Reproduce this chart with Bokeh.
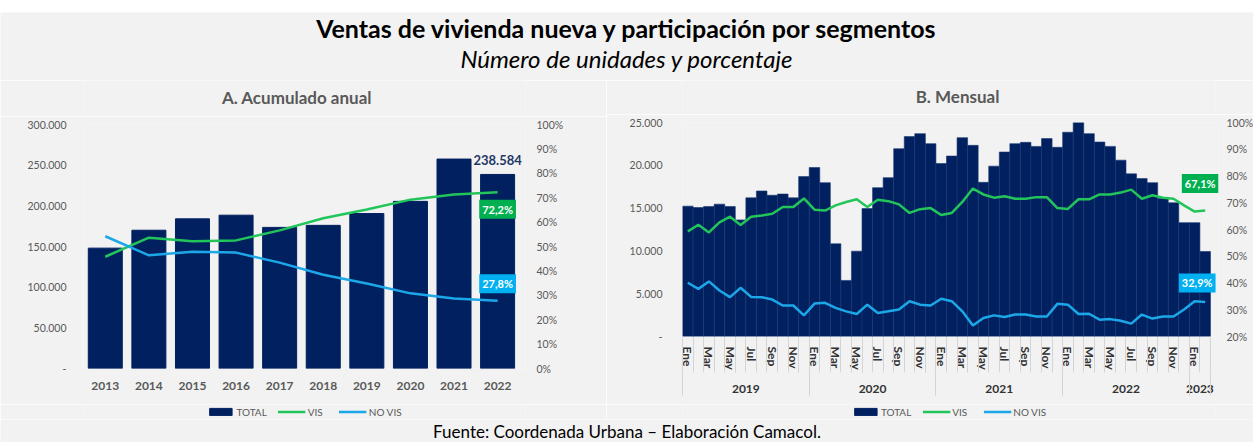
from bokeh.plotting import figure
from bokeh.models import (Range1d, LinearAxis, FixedTicker, PrintfTickFormatter,
                          Legend, LegendItem, Label)
from bokeh.layouts import column, row
from bokeh.embed import file_html
from bokeh.resources import INLINE

# ---------------- data ----------------
title_text = "Ventas de vivienda nueva y participación por segmentos"
subtitle_text = "Número de unidades y porcentaje"
source_text = "Fuente: Coordenada Urbana – Elaboración Camacol."
panel_a_title = "A. Acumulado anual"
panel_b_title = "B. Mensual"
series_names = ["TOTAL", "VIS", "NO VIS"]

years = ["2013", "2014", "2015", "2016", "2017", "2018", "2019", "2020", "2021", "2022"]
annual_total = [148000, 170000, 184000, 188500, 173500, 176000, 190500, 205500, 257500, 238584]
annual_vis = [45.8, 53.6, 52.2, 52.5, 56.6, 61.6, 65.2, 69.2, 71.3, 72.2]
annual_novis = [54.2, 46.4, 47.8, 47.5, 43.4, 38.4, 34.8, 30.8, 28.7, 27.8]

months = ["Ene", "Feb", "Mar", "Abr", "May", "Jun", "Jul", "Ago", "Sep", "Oct", "Nov", "Dic"]
month_years = ["2019"] * 12 + ["2020"] * 12 + ["2021"] * 12 + ["2022"] * 12 + ["2023"] * 2
month_names = months * 4 + months[:2]
monthly_total = [15230, 15070, 15190, 15460, 15190, 13620, 16200, 17000, 16500, 16640, 16200, 18680,
                 19740, 17970, 10830, 6550, 9970, 14950, 17390, 18560, 21940, 23350, 23700, 22530,
                 20210, 21080, 23230, 22330, 18010, 19900, 21550, 22530, 22680, 22210, 23120, 22100,
                 23860, 25000, 23700, 22720, 22210, 20600, 19000, 18450, 17970, 16130, 15620, 13300,
                 13300, 9930]
monthly_vis = [59.3, 61.8, 58.9, 62.7, 64.8, 61.7, 64.8, 65.2, 65.9, 68.4, 68.4, 71.6,
               67.4, 67.1, 69.0, 70.3, 71.3, 68.4, 71.1, 70.6, 69.4, 66.2, 67.6, 68.0,
               65.4, 66.2, 70.3, 75.3, 73.1, 71.9, 72.4, 71.5, 71.5, 72.1, 72.1, 68.0,
               67.7, 71.3, 71.3, 73.1, 73.1, 73.8, 74.9, 71.5, 72.8, 71.9, 71.5, 69.0,
               66.7, 67.1]
monthly_novis = [40.1, 37.8, 40.6, 37.2, 34.7, 38.2, 34.8, 34.7, 33.8, 31.6, 31.6, 27.9,
                 32.3, 32.6, 30.7, 29.4, 28.4, 31.9, 28.8, 29.4, 30.1, 33.2, 31.9, 31.6,
                 34.1, 33.2, 29.4, 24.1, 26.9, 27.9, 27.3, 28.2, 28.2, 27.5, 27.5, 32.2,
                 31.9, 28.4, 28.5, 26.3, 26.5, 25.9, 24.8, 28.2, 26.7, 27.5, 27.5, 30.1,
                 33.2, 32.9]

annual_ticks = [0, 50000, 100000, 150000, 200000, 250000, 300000]
monthly_ticks = [0, 5000, 10000, 15000, 20000, 25000]

# ---------------- style ----------------
FONT = "Lato"
BG = "#f2f2f2"
NAVY = "#002060"
VIS_LINE = "#22c55a"
NOVIS_LINE = "#1ca8e8"
VIS_BOX = "#00b050"
NOVIS_BOX = "#00b0f0"
GRAY = "#595959"
DARK = "#333333"
SEP = "#d4d4d4"
NAN = float("nan")


def fmt_thousands(v):
    return "-" if v == 0 else f"{v:,}".replace(",", ".")


def fmt_pct(v):
    return f"{v:.1f}".replace(".", ",") + "%"


def base_fig(**kw):
    p = figure(toolbar_location=None, output_backend="svg", **kw)
    p.background_fill_color = BG
    p.border_fill_color = BG
    p.outline_line_color = None
    p.xgrid.visible = False
    p.ygrid.visible = False
    return p


def blank_fig(w, h, **kw):
    return base_fig(width=w, height=h, x_range=Range1d(0, 1), y_range=Range1d(0, 1),
                    x_axis_location=None, y_axis_location=None, **kw)


def text_fig(w, h, text, x, y, size, style="normal", color="#000000", **kw):
    f = blank_fig(w, h, min_border=0, **kw)
    f.add_layout(Label(x=x, y=y, text=text, text_align="center", text_baseline="middle",
                       text_font=FONT, text_font_size=size, text_font_style=style,
                       text_color=color))
    return f


def style_axis(ax, size, bold=False, color=GRAY, standoff=8):
    ax.major_label_text_font = FONT
    ax.major_label_text_font_size = size
    ax.major_label_text_color = color
    ax.major_label_text_font_style = "bold" if bold else "normal"
    ax.axis_line_color = None
    ax.major_tick_line_color = None
    ax.minor_tick_line_color = None
    ax.major_label_standoff = standoff


def legend_fig(w):
    # renderers hold no drawable data (NaN); they only supply the legend swatches
    lf = blank_fig(w, 15, min_border=0)
    r_bar = lf.vbar(x=[NAN], top=[NAN], width=0.5, fill_color=NAVY, line_color=NAVY)
    r_vis = lf.line(x=[NAN], y=[NAN], line_color=VIS_LINE, line_width=2.5)
    r_novis = lf.line(x=[NAN], y=[NAN], line_color=NOVIS_LINE, line_width=2.5)
    lg = Legend(items=[LegendItem(label=series_names[0], renderers=[r_bar]),
                       LegendItem(label=series_names[1], renderers=[r_vis]),
                       LegendItem(label=series_names[2], renderers=[r_novis])],
                orientation="horizontal", location="center")
    lg.label_text_font = FONT
    lg.label_text_font_size = "10px"
    lg.label_text_color = GRAY
    lg.glyph_width = 28
    lg.glyph_height = 9
    lg.label_height = 10
    lg.label_standoff = 2
    lg.spacing = 11
    lg.padding = 1
    lg.margin = 0
    lg.background_fill_alpha = 0
    lg.border_line_alpha = 0
    lf.add_layout(lg, "center")
    return lf


def box_label(**kw):
    return Label(text_align="center", text_baseline="middle", text_color="white",
                 text_font=FONT, text_font_style="bold", text_font_size="11px",
                 padding=3, **kw)


# ---------------- header ----------------
header = blank_fig(1253, 80, min_border=0, min_border_top=12)
header.border_fill_color = "#ffffff"
header.add_layout(Label(x=0.5, y=0.765, text=title_text, text_align="center", text_baseline="middle",
                        text_font=FONT, text_font_size="25px", text_font_style="bold",
                        text_color="#000000"))
header.add_layout(Label(x=0.5, y=0.32, text=subtitle_text, text_align="center", text_baseline="middle",
                        text_font=FONT, text_font_size="24px", text_font_style="italic",
                        text_color="#000000"))

# ---------------- panel A ----------------
na = len(years)
ia = list(range(na))
title_a = text_fig(606, 36, panel_a_title, 0.483, 0.53, "17px", "bold", GRAY)
pa = base_fig(frame_width=442, frame_height=244, x_range=Range1d(-0.5, na - 0.5 + 0.14),
              y_range=Range1d(0, 300000),
              min_border_left=83, min_border_right=81, min_border_top=8, min_border_bottom=36)
pa.extra_y_ranges = {"pct": Range1d(0, 100)}

pa.vbar(x=ia, top=annual_total, width=0.78, fill_color=NAVY, line_color=NAVY)
pa.line(x=ia, y=annual_vis, y_range_name="pct", line_color=VIS_LINE, line_width=2.5)
pa.line(x=ia, y=annual_novis, y_range_name="pct", line_color=NOVIS_LINE, line_width=2.5)

ax = pa.yaxis[0]
ax.ticker = FixedTicker(ticks=annual_ticks)
ax.major_label_overrides = {t: fmt_thousands(t) for t in annual_ticks}
style_axis(ax, "10.5px", standoff=11)

ax_r = LinearAxis(y_range_name="pct", ticker=FixedTicker(ticks=list(range(0, 101, 10))),
                  formatter=PrintfTickFormatter(format="%d%%"))
style_axis(ax_r, "10.5px", standoff=5)
pa.add_layout(ax_r, "right")

xa = pa.xaxis[0]
xa.ticker = FixedTicker(ticks=ia)
xa.major_label_overrides = {i: years[i] for i in ia}
style_axis(xa, "12px", bold=True, standoff=7)

pa.add_layout(Label(x=ia[-1], y=annual_total[-1], y_offset=14, text=fmt_thousands(annual_total[-1]),
                    text_align="center", text_baseline="middle", text_font=FONT,
                    text_font_size="13px", text_font_style="bold", text_color="#1f3864"))
pa.add_layout(box_label(x=ia[-1], y=annual_vis[-1], y_range_name="pct", y_offset=-17,
                        text=fmt_pct(annual_vis[-1]), background_fill_color=VIS_BOX))
pa.add_layout(box_label(x=ia[-1], y=annual_novis[-1], y_range_name="pct", y_offset=17,
                        text=fmt_pct(annual_novis[-1]), background_fill_color=NOVIS_BOX))

# ---------------- panel B ----------------
n = len(monthly_total)
idx = list(range(n))
title_b = text_fig(647, 34, panel_b_title, 0.516, 0.53, "17px", "bold", GRAY)
pb = base_fig(frame_width=536, frame_height=214, x_range=Range1d(-0.5, n - 0.5 + 0.76),
              y_range=Range1d(0, 25000),
              min_border_left=76, min_border_right=35, min_border_top=8, min_border_bottom=68)
pb.extra_y_ranges = {"pct": Range1d(20, 100)}

pb.vbar(x=idx, top=monthly_total, width=1.0, fill_color=NAVY, line_color="#1a3570", line_width=0.6)
pb.line(x=idx, y=monthly_vis, y_range_name="pct", line_color=VIS_LINE, line_width=2.5)
pb.line(x=idx, y=monthly_novis, y_range_name="pct", line_color=NOVIS_LINE, line_width=2.5)

bl = pb.yaxis[0]
bl.ticker = FixedTicker(ticks=monthly_ticks)
bl.major_label_overrides = {t: fmt_thousands(t) for t in monthly_ticks}
style_axis(bl, "10.5px", standoff=14)

br = LinearAxis(y_range_name="pct", ticker=FixedTicker(ticks=list(range(20, 101, 10))),
                formatter=PrintfTickFormatter(format="%d%%"))
style_axis(br, "10.5px", standoff=2)
pb.add_layout(br, "right")

# month labels axis (no ticks)
label_idx = [i for i in idx if i % 2 == 0]
mx = pb.xaxis[0]
mx.ticker = FixedTicker(ticks=label_idx)
mx.major_label_overrides = {i: month_names[i] for i in label_idx}
style_axis(mx, "12px", bold=True, color=DARK, standoff=4)
mx.major_label_orientation = "vertical"

# year labels axis; its inward minor ticks draw the month separators
year_list = []
for y in month_years:
    if y not in year_list:
        year_list.append(y)
year_centers = []
year_bounds = [-0.5]
for y in year_list:
    ii = [i for i in idx if month_years[i] == y]
    year_centers.append((ii[0] + ii[-1]) / 2)
    year_bounds.append(ii[-1] + 0.5)
month_bounds = [i - 0.5 for i in range(n + 1)]

yx = LinearAxis(ticker=FixedTicker(ticks=year_centers, minor_ticks=month_bounds))
yx.major_label_overrides = {c: y for c, y in zip(year_centers, year_list)}
style_axis(yx, "12px", bold=True, color=DARK, standoff=6)
yx.minor_tick_line_color = SEP
yx.minor_tick_in = 35
yx.minor_tick_out = 0
pb.add_layout(yx, "below")

# year separators through the year-label band
zx = LinearAxis(ticker=FixedTicker(ticks=[], minor_ticks=year_bounds))
style_axis(zx, "1px", standoff=0)
zx.minor_tick_line_color = SEP
zx.minor_tick_in = 23
zx.minor_tick_out = 0
pb.add_layout(zx, "below")

pb.add_layout(box_label(x=idx[-1], y=monthly_vis[-1], y_range_name="pct", x_offset=-5, y_offset=27,
                        text=fmt_pct(monthly_vis[-1]), background_fill_color=VIS_BOX))
pb.add_layout(box_label(x=idx[-1], y=monthly_novis[-1], y_range_name="pct", x_offset=-8, y_offset=19,
                        text=fmt_pct(monthly_novis[-1]), background_fill_color=NOVIS_BOX))

# ---------------- footer ----------------
footer = text_fig(1253, 23, source_text, 0.5, 0.5, "17px")

layout = column(header,
                row(column(title_a, pa, legend_fig(606), spacing=0),
                    column(title_b, pb, legend_fig(647), spacing=0), spacing=0),
                footer, spacing=0)
open("out.html", "w").write(file_html(layout, INLINE))
